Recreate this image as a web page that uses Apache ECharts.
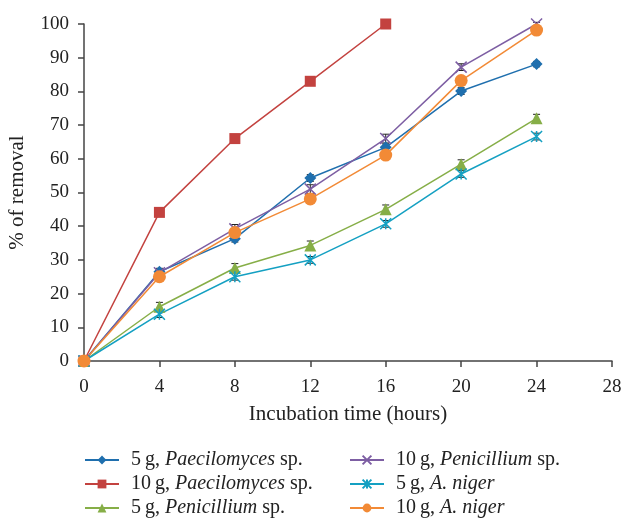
<!DOCTYPE html>
<html><head><meta charset="utf-8">
<script src="https://cdn.jsdelivr.net/npm/echarts@6/dist/echarts.min.js"></script>
<style>html,body{margin:0;padding:0;background:#fff}#c{width:625px;height:521px}</style>
</head><body><div id="c"></div>
<script>
const hours = [0, 4, 8, 12, 16, 20, 24];
const pae5 = [0, 26.5, 36.3, 54.3, 63.4, 80.1, 88.1];
const pae10 = [0, 44.1, 66.0, 83.0, 100];
const pen5 = [0, 16.1, 27.6, 34.3, 45.0, 58.4, 72.0];
const pen10 = [0, 26.2, 39.2, 51.0, 66.0, 87.2, 100];
const nig5 = [0, 13.9, 25.0, 30.0, 40.7, 55.5, 66.6];
const nig10 = [0, 25.0, 38.1, 48.1, 61.1, 83.2, 98.2];
const errPae5 = [0.5, 1, 1, 1, 1, 1, 0.8];
const errPae10 = [0, 0, 0, 0, 0];
const errPen5 = [0.5, 1.3, 1.3, 1.3, 1.3, 1.3, 1.2];
const errPen10 = [0.5, 1, 1.3, 1.3, 1.3, 1, 0.5];
const errNig5 = [0.5, 1, 1, 1, 1, 1, 1];
const errNig10 = [0.5, 0.8, 0.8, 0.8, 0.8, 0.8, 0.8];

const names = ['5g, Paecilomyces sp.','10g, Paecilomyces sp.','5g, Penicillium sp.','10g, Penicillium sp.','5g, A. niger','10g, A. niger'];
const colors = ['#1f6fae','#c3423f','#86ae47','#7d5ea3','#14a0c2','#f28a36'];

const serie = (name, vals, color, symbol, size, extra) => Object.assign({
  name, type: 'line', data: vals.map((v,i)=>[hours[i], v]),
  color, symbol, symbolSize: size, showSymbol: true, clip: false,
  lineStyle: {width: 1.5, color}, itemStyle: {color}, z: 3
}, extra || {});

const errSerie = (vals, errs) => ({
  type: 'custom', silent: true, z: 2, clip: false,
  data: vals.map((v,i)=>[hours[i], v - errs[i], v + errs[i]]),
  renderItem: (params, api) => {
    const x = api.value(0);
    const lo = api.coord([x, api.value(1)]);
    const hi = api.coord([x, api.value(2)]);
    if (Math.abs(hi[1] - lo[1]) < 0.5) return {type: 'group', children: []};
    const w = 3.5;
    const st = {stroke: '#222', lineWidth: 1};
    return {type: 'group', children: [
      {type:'line', shape:{x1:lo[0],y1:lo[1],x2:hi[0],y2:hi[1]}, style: st},
      {type:'line', shape:{x1:hi[0]-w,y1:hi[1],x2:hi[0]+w,y2:hi[1]}, style: st},
      {type:'line', shape:{x1:lo[0]-w,y1:lo[1],x2:lo[0]+w,y2:lo[1]}, style: st}
    ]};
  }
});

const xPath = 'path://M0,0L10,10M10,0L0,10';
const starPath = 'path://M0,0L10,10M10,0L0,10M5,0L5,10';

const fmt = (name) => {
  const m = name.match(/^(\d+)g, (.*?)( sp\.)?$/);
  const num = m[1], sp = m[2], tail = m[3] || '';
  return '{s|}{n|' + num + '\u2009g, }{i|' + sp + '}' + (tail ? '{n|' + tail + '}' : '');
};
const FS = 20;
const legendText = {
  fontFamily: 'Liberation Serif', fontSize: FS, color: '#222', lineHeight: 20,
  rich: {
    s: {width: 7, lineHeight: 20},
    n: {fontFamily: 'Liberation Serif', fontSize: FS, color: '#222', lineHeight: 20},
    i: {fontFamily: 'Liberation Serif', fontSize: FS, fontStyle: 'italic', color: '#222', lineHeight: 20}
  }
};

const chart = echarts.init(document.getElementById('c'), null, {renderer: 'canvas'});
chart.setOption({
  animation: false,
  backgroundColor: '#fff',
  grid: {left: 84, right: 13, top: 24, bottom: 160, containLabel: false, outerBoundsMode: 'none'},
  legend: [
    {data: names.slice(0,3), orient: 'vertical', left: 79, top: 445, height: 74, itemGap: 4,
     itemWidth: 34, itemHeight: 11, formatter: fmt, textStyle: legendText},
    {data: names.slice(3), orient: 'vertical', left: 344, top: 445, height: 74, itemGap: 4,
     itemWidth: 34, itemHeight: 11, formatter: fmt, textStyle: legendText}
  ],
  xAxis: {
    type: 'value', min: 0, max: 28, interval: 4,
    name: 'Incubation time (hours)', nameLocation: 'middle', nameGap: 43,
    nameTextStyle: {fontFamily: 'Liberation Serif', fontSize: 21, color: '#222'},
    axisLine: {lineStyle: {color: '#444', width: 1.5}},
    axisTick: {show: true, length: 6, lineStyle: {color: '#444', width: 1.5}},
    axisLabel: {fontFamily: 'Liberation Serif', fontSize: 19, color: '#222', margin: 17},
    splitLine: {show: false}
  },
  yAxis: {
    type: 'value', min: 0, max: 100, interval: 10,
    name: '% of removal', nameLocation: 'middle', nameGap: 56, nameRotate: 90,
    nameTextStyle: {fontFamily: 'Liberation Serif', fontSize: 21, color: '#222'},
    axisLine: {show: true, lineStyle: {color: '#444', width: 1.5}},
    axisTick: {show: true, length: 6, lineStyle: {color: '#444', width: 1.5}},
    axisLabel: {fontFamily: 'Liberation Serif', fontSize: 19, color: '#222', margin: 15},
    splitLine: {show: false}
  },
  series: [
    errSerie(pae5, errPae5), errSerie(pae10, errPae10), errSerie(pen5, errPen5),
    errSerie(pen10, errPen10), errSerie(nig5, errNig5), errSerie(nig10, errNig10),
    serie(names[0], pae5, colors[0], 'diamond', 12),
    serie(names[1], pae10, colors[1], 'rect', 11),
    serie(names[2], pen5, colors[2], 'triangle', 12),
    serie(names[3], pen10, colors[3], xPath, 11, {itemStyle: {color: colors[3], borderColor: colors[3], borderWidth: 1.5}}),
    serie(names[4], nig5, colors[4], starPath, 11, {itemStyle: {color: colors[4], borderColor: colors[4], borderWidth: 1.5}}),
    serie(names[5], nig10, colors[5], 'circle', 13)
  ]
});
</script></body></html>
